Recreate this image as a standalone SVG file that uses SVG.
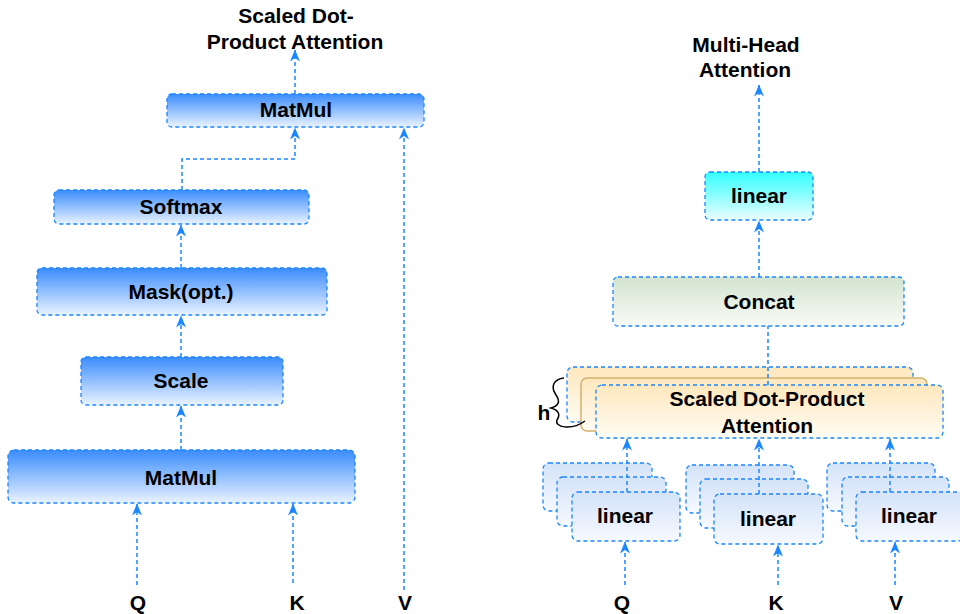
<svg xmlns="http://www.w3.org/2000/svg" width="960" height="614" viewBox="0 0 960 614">
  <defs>
    <linearGradient id="gBlue" x1="0" y1="0" x2="0" y2="1">
      <stop offset="0" stop-color="#3a8cfc"/>
      <stop offset="1" stop-color="#eaf3ff"/>
    </linearGradient>
    <linearGradient id="gLin" x1="0" y1="0" x2="0" y2="1">
      <stop offset="0" stop-color="#d4e3f8"/>
      <stop offset="1" stop-color="#f6f9ff"/>
    </linearGradient>
    <linearGradient id="gCyan" x1="0" y1="0" x2="0" y2="1">
      <stop offset="0" stop-color="#33ffff"/>
      <stop offset="1" stop-color="#eafdff"/>
    </linearGradient>
    <linearGradient id="gGreen" x1="0" y1="0" x2="0" y2="1">
      <stop offset="0" stop-color="#d3e4cf"/>
      <stop offset="1" stop-color="#f8fbf6"/>
    </linearGradient>
    <linearGradient id="gSand" x1="0" y1="0" x2="0" y2="1">
      <stop offset="0" stop-color="#fde7bd"/>
      <stop offset="1" stop-color="#fffcf3"/>
    </linearGradient>
    <marker id="arr" viewBox="0 0 12 10" refX="11.5" refY="5" markerWidth="12" markerHeight="10" markerUnits="userSpaceOnUse" orient="auto">
      <path d="M0,0 L12,5 L0,10 L3.5,5 z" fill="#1a86ff"/>
    </marker>
    <style>
      .box { stroke: #1a86ff; stroke-width: 1.3; stroke-dasharray: 4 3; }
      .tan { stroke: #d5b06c; stroke-width: 1.5; }
      .lbl { font-family: "Liberation Sans", Arial, sans-serif; font-weight: bold; font-size: 21px; fill: #000; text-anchor: middle; }
      .edge { fill: none; stroke: #1a86ff; stroke-width: 1.5; stroke-dasharray: 4 3; }
      .arrow { marker-end: url(#arr); }
      .brace { fill: none; stroke: #000; stroke-width: 1.5; }
    </style>
  </defs>

  <!-- Scaled Dot-Product Attention -->
  <g id="sdpa-title">
    <text class="lbl" x="296" y="23">Scaled Dot-</text>
    <text class="lbl" x="295" y="49">Product Attention</text>
  </g>
  <g id="matmul-top">
    <rect class="box" x="167" y="94" width="257" height="33" rx="5" fill="url(#gBlue)"/>
    <text class="lbl" x="296" y="117">MatMul</text>
  </g>
  <g id="softmax">
    <rect class="box" x="54" y="190" width="255" height="34" rx="5" fill="url(#gBlue)"/>
    <text class="lbl" x="181" y="214">Softmax</text>
  </g>
  <g id="mask">
    <rect class="box" x="37" y="268" width="290" height="47" rx="5" fill="url(#gBlue)"/>
    <text class="lbl" x="181" y="299">Mask(opt.)</text>
  </g>
  <g id="scale">
    <rect class="box" x="81" y="357" width="202" height="48" rx="5" fill="url(#gBlue)"/>
    <text class="lbl" x="181" y="388">Scale</text>
  </g>
  <g id="matmul-bottom">
    <rect class="box" x="8" y="450" width="347" height="53" rx="6" fill="url(#gBlue)"/>
    <text class="lbl" x="181" y="485">MatMul</text>
  </g>
  <g id="left-inputs">
    <text class="lbl" x="138" y="610">Q</text>
    <text class="lbl" x="297" y="610">K</text>
    <text class="lbl" x="405" y="610">V</text>
  </g>

  <!-- Multi-Head Attention -->
  <g id="mha-title">
    <text class="lbl" x="746" y="52">Multi-Head</text>
    <text class="lbl" x="745" y="77">Attention</text>
  </g>
  <g id="linear-out">
    <rect class="box" x="705" y="172" width="108" height="48" rx="5" fill="url(#gCyan)"/>
    <text class="lbl" x="759" y="203">linear</text>
  </g>
  <g id="concat">
    <rect class="box" x="613" y="277" width="291" height="49" rx="5" fill="url(#gGreen)"/>
    <text class="lbl" x="759" y="309">Concat</text>
  </g>
  <g id="attention-heads">
    <rect class="box" x="567" y="367" width="346" height="55" rx="6" fill="url(#gSand)"/>
    <rect class="tan" x="581" y="378" width="346" height="53" rx="6" fill="url(#gSand)"/>
    <rect class="box" x="596" y="385" width="347" height="53" rx="6" fill="url(#gSand)"/>
    <text class="lbl" x="767" y="406">Scaled Dot-Product</text>
    <text class="lbl" x="767" y="433">Attention</text>
  </g>
  <g id="heads-brace">
    <path class="brace" d="M564,378 C554,379 550,386 556,395 C561,402 558,406 551,408 C558,410 561,414 557,420 C554,427 571,431 585,421"/>
    <text class="lbl" x="544" y="420">h</text>
  </g>
  <g id="linear-q">
    <rect class="box" x="543" y="463" width="109" height="48" rx="6" fill="url(#gLin)"/>
    <rect class="box" x="557" y="477" width="109" height="49" rx="6" fill="url(#gLin)"/>
    <rect class="box" x="572" y="492" width="108" height="49" rx="6" fill="url(#gLin)"/>
    <text class="lbl" x="625" y="523">linear</text>
  </g>
  <g id="linear-k">
    <rect class="box" x="686" y="465" width="108" height="48" rx="6" fill="url(#gLin)"/>
    <rect class="box" x="700" y="479" width="108" height="49" rx="6" fill="url(#gLin)"/>
    <rect class="box" x="714" y="494" width="109" height="50" rx="6" fill="url(#gLin)"/>
    <text class="lbl" x="768" y="526">linear</text>
  </g>
  <g id="linear-v">
    <rect class="box" x="827" y="463" width="108" height="48" rx="6" fill="url(#gLin)"/>
    <rect class="box" x="842" y="477" width="107" height="49" rx="6" fill="url(#gLin)"/>
    <rect class="box" x="856" y="492" width="108" height="49" rx="6" fill="url(#gLin)"/>
    <text class="lbl" x="909" y="523">linear</text>
  </g>
  <g id="right-inputs">
    <text class="lbl" x="622" y="610">Q</text>
    <text class="lbl" x="776" y="610">K</text>
    <text class="lbl" x="896" y="610">V</text>
  </g>

  <g id="connectors">
    <!-- scaled dot-product attention -->
    <line class="edge arrow" x1="137" y1="585" x2="137" y2="504"/>
    <line class="edge arrow" x1="293" y1="583" x2="293" y2="504"/>
    <line class="edge arrow" x1="404" y1="590" x2="404" y2="128"/>
    <line class="edge arrow" x1="181" y1="450" x2="181" y2="406"/>
    <line class="edge arrow" x1="181" y1="357" x2="181" y2="316"/>
    <line class="edge arrow" x1="181" y1="268" x2="181" y2="225"/>
    <path class="edge arrow" d="M182,190 V159 H295 V128"/>
    <line class="edge arrow" x1="295" y1="94" x2="295" y2="50"/>
    <!-- multi-head attention -->
    <line class="edge arrow" x1="759" y1="172" x2="759" y2="85"/>
    <line class="edge arrow" x1="759" y1="277" x2="759" y2="221"/>
    <line class="edge" x1="768" y1="385" x2="768" y2="326"/>
    <line class="edge arrow" x1="627" y1="492" x2="627" y2="439"/>
    <line class="edge arrow" x1="759" y1="494" x2="759" y2="439"/>
    <line class="edge arrow" x1="890" y1="492" x2="890" y2="439"/>
    <line class="edge arrow" x1="625" y1="585" x2="625" y2="542"/>
    <line class="edge arrow" x1="778" y1="585" x2="778" y2="545"/>
    <line class="edge arrow" x1="895" y1="585" x2="895" y2="542"/>
  </g>
</svg>
